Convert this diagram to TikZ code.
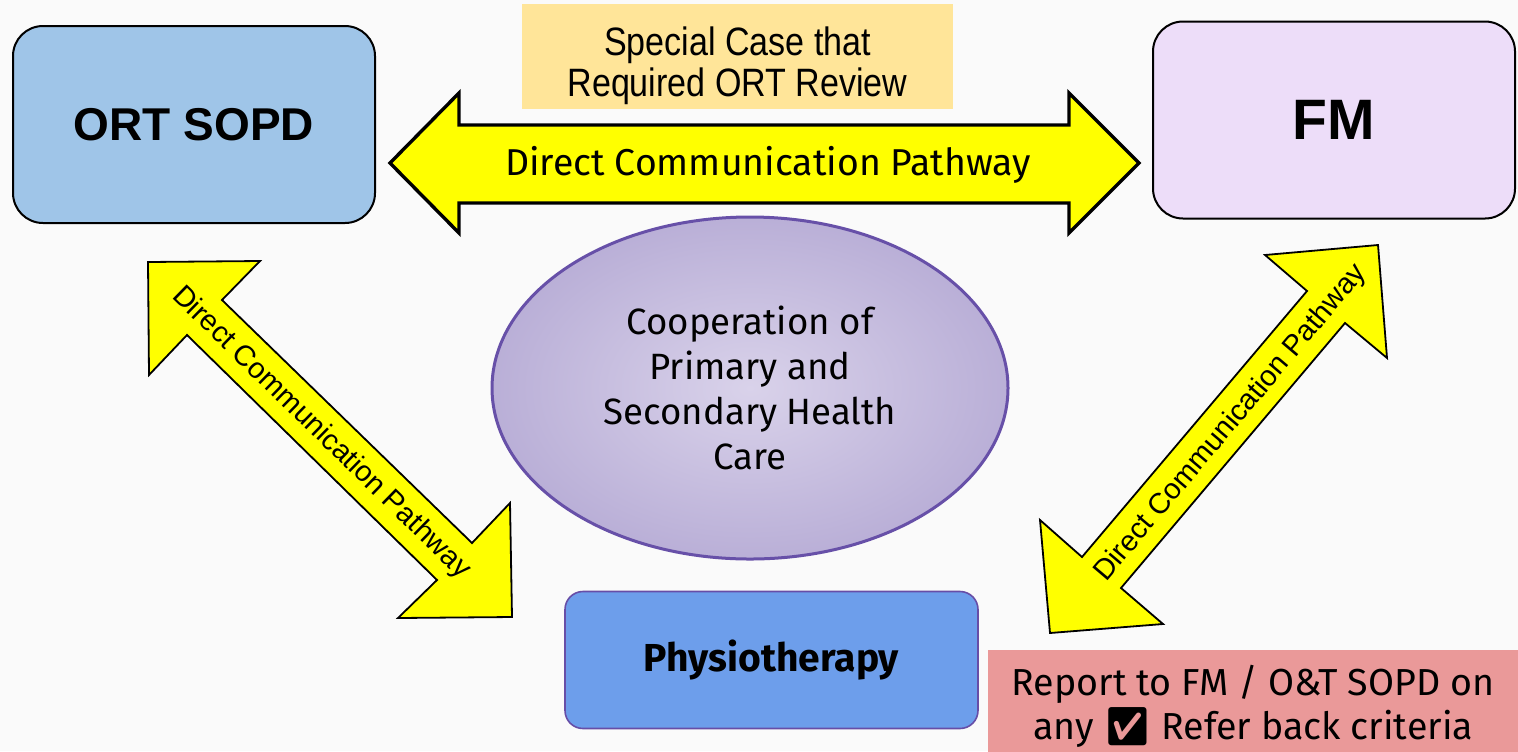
\documentclass[tikz,border=0pt]{standalone}
\usepackage{fontspec}
\setmainfont{Fira Sans}
\newfontfamily\arialf{Liberation Sans}
\newfontfamily\condf[FakeStretch=0.86]{Liberation Sans}
\newfontfamily\emojif{Noto Emoji}
\usetikzlibrary{shapes.geometric}
\definecolor{bgc}{HTML}{FAFAFA}
\definecolor{ortc}{HTML}{9FC5E8}
\definecolor{fmc}{HTML}{EDDDF9}
\definecolor{specc}{HTML}{FFE599}
\definecolor{physc}{HTML}{6D9EEB}
\definecolor{physb}{HTML}{674EA7}
\definecolor{repc}{HTML}{EA9999}
\definecolor{ellin}{HTML}{D9D2EA}
\definecolor{ellout}{HTML}{9A8CC4}
\definecolor{ellb}{HTML}{6750A8}
\definecolor{arrc}{HTML}{FFFF00}
\pgfdeclareradialshading{ellshade}{\pgfpoint{0bp}{0bp}}{color(0bp)=(ellin); color(50bp)=(ellout); color(72bp)=(ellout)}
\tikzset{
  mainbox/.style={draw=black, line width=1pt, rounded corners=15pt, minimum width=181pt, minimum height=98.5pt, inner sep=0pt},
  bigarrow/.style={draw=black, fill=arrc, line width=1.7pt, line join=miter},
  diagarrow/.style={draw=black, fill=arrc, line width=0.9pt, line join=miter},
  difont/.style={font=\arialf\fontsize{14.5}{16}\selectfont},
}
\begin{document}
\begin{tikzpicture}[x=0.5pt,y=-0.5pt]
\fill[bgc] (0,0) rectangle (1518,751);
\useasboundingbox (0,0) rectangle (1518,751);

% central ellipse
\node[ellipse, draw=ellb, line width=1.5pt, shading=ellshade, minimum width=258pt, minimum height=171pt, inner sep=0pt,
  align=center, font=\fontsize{18.3}{22.5}\selectfont] (coop) at (750,388)
  {Cooperation of\\Primary and\\Secondary Health\\Care};

% horizontal double arrow
\draw[bigarrow] (390,163) -- (459,93) -- (459,125) -- (1069,125) -- (1069,93) -- (1139,163)
  -- (1069,233) -- (1069,203) -- (459,203) -- (459,233) -- cycle;
\node[font=\fontsize{18.7}{20}\selectfont] (hlab) at (768,165) {Direct Communication Pathway};

% left diagonal double arrow
\draw[diagarrow] (148,262) -- (260,261) -- (222,300) -- (472,543) -- (510,503) -- (512,617)
  -- (398,618) -- (437,580) -- (187,335) -- (149,375) -- cycle;
\node[difont, rotate=-44.3] (llab) at (321,433) {Direct Communication Pathway};

% right diagonal double arrow
\draw[diagarrow] (1378,245) -- (1387,358) -- (1345,323) -- (1121,588) -- (1163,624) -- (1050,633)
  -- (1040,520) -- (1082,557) -- (1307,291) -- (1265,255) -- cycle;
\node[difont, rotate=49.8] (rlab) at (1231,423) {Direct Communication Pathway};

% boxes
\node[mainbox, fill=ortc, font=\arialf\bfseries\fontsize{23}{26}\selectfont] (ort) at (194,124.5) {ORT SOPD};
\node[mainbox, fill=fmc, font=\arialf\bfseries\fontsize{28.5}{30}\selectfont] (fm) at (1334,120) {FM};

\node[fill=specc, minimum width=215.5pt, minimum height=52.5pt, inner sep=0pt] (spec) at (737.5,56.5) {};
\node[align=center, inner sep=0pt, font=\condf\fontsize{19.8}{20.5}\selectfont] (spectext) at (737.5,66)
  {Special Case that\\Required ORT Review};

\node[draw=physb, line width=0.8pt, fill=physc, rounded corners=9pt, minimum width=206.5pt, minimum height=68.5pt,
  inner sep=0pt, font=\bfseries\fontsize{19.5}{22}\selectfont] (phys) at (771.5,660) {Physiotherapy};

\node[fill=repc, minimum width=265pt, minimum height=56pt, inner sep=0pt, align=center,
  font=\fontsize{18.8}{22}\selectfont] (rep) at (1253,706)
  {Report to FM / O\&T SOPD on\\any {\emojif ✅} Refer back criteria};
\end{tikzpicture}
\end{document}
